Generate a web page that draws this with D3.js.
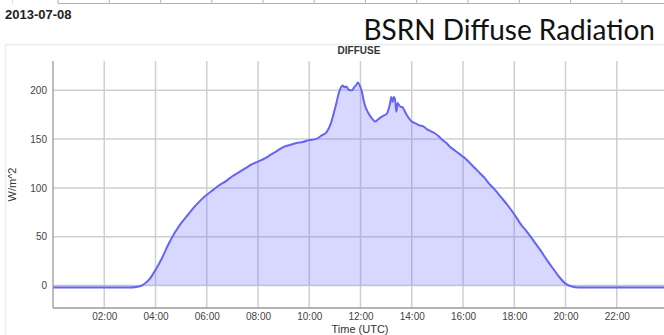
<!DOCTYPE html>
<html>
<head>
<meta charset="utf-8">
<script src="https://cdn.jsdelivr.net/npm/d3@7"></script>
<style>
  html, body { margin: 0; padding: 0; background: #fff; }
  svg { display: block; }
</style>
</head>
<body>
<svg id="chart" width="664" height="335"></svg>
<script>
// Diffuse radiation, 2013-07-08, hours UTC and W/m^2
const hours = [
  0, 1, 2, 3, 3.25, 3.5, 3.75, 4.0, 4.25, 4.5, 4.75, 5.0, 5.25, 5.5, 5.75,
  6.0, 6.25, 6.5, 6.75, 7.0, 7.25, 7.5, 7.75, 8.0, 8.25, 8.5, 8.75, 9.0,
  9.25, 9.5, 9.75, 10.0, 10.25, 10.5, 10.67, 10.83, 10.95, 11.05, 11.15,
  11.22, 11.3, 11.38, 11.45, 11.52, 11.6, 11.67, 11.75, 11.82, 11.9, 11.97,
  12.05, 12.12, 12.18, 12.3, 12.45, 12.57, 12.68, 12.77, 12.9, 13.03, 13.1,
  13.15, 13.2, 13.25, 13.3, 13.35, 13.4, 13.45, 13.5, 13.57, 13.63, 13.7,
  13.8, 13.9, 14.0, 14.15, 14.3, 14.45, 14.6, 14.75, 14.9, 15.05, 15.2,
  15.35, 15.5, 15.65, 15.8, 15.95, 16.1, 16.25, 16.4, 16.55, 16.7, 16.85,
  17.0, 17.25, 17.5, 17.75, 18.0, 18.25, 18.5, 18.75, 19.0, 19.25, 19.5,
  19.75, 20.0, 20.25, 20.5, 21, 22, 23, 24
];
const diffuse = [
  -2, -2, -2, -2, -1.5, 0.5, 6, 16, 28, 42, 54, 64, 72, 80, 87,
  93, 98, 103, 107, 112, 116, 120, 124, 127, 130, 134, 138, 142,
  144, 146, 147, 149, 150, 154, 157, 165, 176, 186, 197,
  202, 205, 203, 204, 201, 200, 200, 203, 205, 208, 205,
  199, 190, 184, 177, 171, 168, 170, 172, 174, 176, 181,
  186, 193, 188, 193, 190, 178, 187, 185, 183, 183, 180,
  175, 171, 168, 166, 164, 163, 160, 158, 156, 153, 149,
  146, 142, 139, 136, 133, 130, 126, 122, 118, 114, 110,
  105, 98, 90, 82, 73, 63, 55, 46, 37, 27, 18,
  9, 2, -1, -2, -2, -2, -2, -2
];
const yTicks = [0, 50, 100, 150, 200];
const xTicks = [2, 4, 6, 8, 10, 12, 14, 16, 18, 20, 22];
const xTickLabels = ["02:00", "04:00", "06:00", "08:00", "10:00", "12:00",
  "14:00", "16:00", "18:00", "20:00", "22:00"];

const points = hours.map((h, i) => ({ h, v: diffuse[i] }));

const svg = d3.select("#chart");
const W = 664, H = 335;
const plot = { left: 53, right: 668, top: 61, bottom: 308 };

const x = d3.scaleLinear().domain([0, 24]).range([plot.left, plot.right]);
const y = d3.scaleLinear().domain([-23, 230]).range([plot.bottom, plot.top]);

// Strip of the panel above (its bottom edge and grid stubs)
const xAbove = d3.scaleLinear().domain([0, 24]).range([58, 673]);
svg.append("line")
  .attr("x1", 58).attr("x2", W).attr("y1", 3.5).attr("y2", 3.5)
  .attr("stroke", "#b0b0b0").attr("stroke-width", 1.2);
svg.append("line")
  .attr("x1", 12.5).attr("x2", 12.5).attr("y1", 0).attr("y2", 4)
  .attr("stroke", "#e0e0e0").attr("stroke-width", 1);
svg.append("g").selectAll("line")
  .data(d3.range(0, 24, 2))
  .join("line")
  .attr("x1", d => xAbove(d)).attr("x2", d => xAbove(d))
  .attr("y1", 0).attr("y2", 3.5)
  .attr("stroke", "#bdbdbd").attr("stroke-width", 1.2);

// Header texts
svg.append("text")
  .attr("x", 5).attr("y", 19)
  .attr("font-family", "Liberation Sans, Arial, sans-serif")
  .attr("font-weight", "bold").attr("font-size", 13)
  .attr("fill", "#222")
  .text("2013-07-08");

svg.append("text")
  .attr("x", 655).attr("y", 40)
  .attr("text-anchor", "end")
  .attr("font-family", "Lato, 'Open Sans', sans-serif")
  .attr("font-size", 28)
  .attr("fill", "#111")
  .text("BSRN Diffuse Radiation");

// Panel frame
svg.append("path")
  .attr("d", `M5.5,${H} V44.5 H${W}`)
  .attr("fill", "none").attr("stroke", "#ececec").attr("stroke-width", 1.5);

svg.append("text")
  .attr("x", 359).attr("y", 54)
  .attr("text-anchor", "middle")
  .attr("font-family", "Liberation Sans, Arial, sans-serif")
  .attr("font-weight", "bold").attr("font-size", 10)
  .attr("fill", "#333")
  .text("DIFFUSE");

// Grid
const grid = svg.append("g");
grid.selectAll(".vg").data(xTicks).join("line")
  .attr("class", "vg")
  .attr("x1", d => x(d)).attr("x2", d => x(d))
  .attr("y1", plot.top).attr("y2", plot.bottom)
  .attr("stroke", "#cfcfcf").attr("stroke-width", 1.5);
grid.selectAll(".hg").data(yTicks).join("line")
  .attr("class", "hg")
  .attr("x1", plot.left).attr("x2", W)
  .attr("y1", d => y(d)).attr("y2", d => y(d))
  .attr("stroke", "#cfcfcf").attr("stroke-width", 1.5);

// Area and line
const area = d3.area()
  .x(d => x(d.h)).y0(y(0)).y1(d => y(d.v))
  .curve(d3.curveMonotoneX);
const line = d3.line()
  .x(d => x(d.h)).y(d => y(d.v))
  .curve(d3.curveMonotoneX);

svg.append("path").datum(points)
  .attr("d", area)
  .attr("fill", "rgb(95,95,255)").attr("fill-opacity", 0.25);
svg.append("path").datum(points)
  .attr("d", line)
  .attr("fill", "none")
  .attr("stroke", "#6565f5").attr("stroke-width", 2)
  .attr("stroke-linejoin", "round");

// Axes
const xAxis = d3.axisBottom(x).tickValues(xTicks)
  .tickFormat((d, i) => xTickLabels[i]).tickSize(0).tickPadding(5);
const gx = svg.append("g")
  .attr("transform", `translate(0,${plot.bottom})`)
  .call(xAxis);
gx.select(".domain").remove();
gx.selectAll("text")
  .attr("font-family", "Liberation Sans, Arial, sans-serif")
  .attr("font-size", 10).attr("fill", "#444");

const yAxis = d3.axisLeft(y).tickValues(yTicks).tickSize(0).tickPadding(5);
const gy = svg.append("g")
  .attr("transform", `translate(${plot.left - 1},0)`)
  .call(yAxis);
gy.select(".domain").remove();
gy.selectAll("text")
  .attr("font-family", "Liberation Sans, Arial, sans-serif")
  .attr("font-size", 10).attr("fill", "#444");

svg.append("line")
  .attr("x1", plot.left).attr("x2", plot.left)
  .attr("y1", plot.top).attr("y2", plot.bottom)
  .attr("stroke", "#9a9a9a").attr("stroke-width", 1.3);
svg.append("line")
  .attr("x1", plot.left).attr("x2", W)
  .attr("y1", plot.bottom).attr("y2", plot.bottom)
  .attr("stroke", "#9a9a9a").attr("stroke-width", 1.3);

// Axis titles
svg.append("text")
  .attr("x", 360).attr("y", 333)
  .attr("text-anchor", "middle")
  .attr("font-family", "Liberation Sans, Arial, sans-serif")
  .attr("font-size", 11).attr("fill", "#333")
  .text("Time (UTC)");

svg.append("text")
  .attr("transform", `translate(16,${(plot.top + plot.bottom) / 2}) rotate(-90)`)
  .attr("text-anchor", "middle")
  .attr("font-family", "Liberation Sans, Arial, sans-serif")
  .attr("font-size", 11).attr("fill", "#333")
  .text("W/m^2");
</script>
</body>
</html>
